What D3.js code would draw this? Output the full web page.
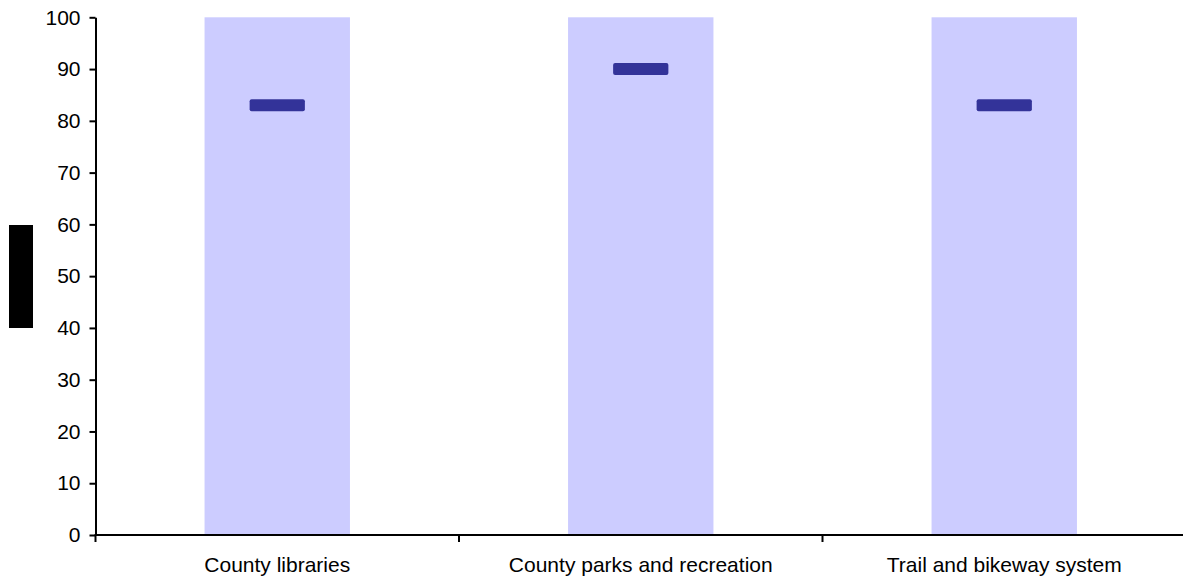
<!DOCTYPE html>
<html>
<head>
<meta charset="utf-8">
<script src="https://cdn.jsdelivr.net/npm/d3@7"></script>
<style>
  html, body { margin: 0; padding: 0; background: #fff; }
  svg { display: block; }
  text { font-family: "Liberation Sans", Arial, sans-serif; }
</style>
</head>
<body>
<svg id="chart" width="1183" height="582"></svg>
<script>
const categories = ["County libraries", "County parks and recreation", "Trail and bikeway system"];
const rangeMax = [100, 100, 100];
const markerValues = [83, 90, 83];
const yTicks = [0, 10, 20, 30, 40, 50, 60, 70, 80, 90, 100];

const svg = d3.select("#chart");
const margin = { left: 95.5, right: -3, top: 17.3, bottom: 47 };
const W = 1183, H = 582;

const x = d3.scaleBand().domain(categories).range([margin.left, W - margin.right]).padding(0);
const y = d3.scaleLinear().domain([0, 100]).range([H - margin.bottom, margin.top]);

const bw = x.bandwidth();
const barW = bw * 0.4;
const markW = bw * 0.152;
const markH = 12;

// Bars
svg.append("g").selectAll("rect")
  .data(categories)
  .join("rect")
  .attr("x", (d) => x(d) + bw / 2 - barW / 2)
  .attr("width", barW)
  .attr("y", (d, i) => y(rangeMax[i]))
  .attr("height", (d, i) => y(0) - y(rangeMax[i]))
  .attr("fill", "#CCCCFF");

// Markers
svg.append("g").selectAll("rect")
  .data(categories)
  .join("rect")
  .attr("x", (d) => x(d) + bw / 2 - markW / 2)
  .attr("width", markW)
  .attr("y", (d, i) => y(markerValues[i]) - markH / 2)
  .attr("height", markH)
  .attr("rx", 2)
  .attr("fill", "#333399");

// Y axis
const yAxis = d3.axisLeft(y).tickValues(yTicks).tickSize(6).tickPadding(9).tickSizeOuter(0);
const gy = svg.append("g").attr("transform", `translate(${margin.left},0)`).call(yAxis);
gy.select(".domain").attr("stroke", "#000").attr("stroke-width", 2);
gy.selectAll(".tick line").attr("stroke", "#000").attr("stroke-width", 2);
gy.selectAll(".tick text").attr("font-size", "21px").attr("fill", "#000")
  .attr("font-family", "'Liberation Sans', Arial, sans-serif");

// X axis
const xTickPos = [margin.left, ...categories.slice(1).map(c => x(c))];
const gx = svg.append("g").attr("transform", `translate(0,${y(0)})`);
gx.append("line").attr("x1", margin.left - 1).attr("x2", W + 5).attr("y1", 0).attr("y2", 0)
  .attr("stroke", "#000").attr("stroke-width", 2);
gx.selectAll("line.tk").data(xTickPos).join("line").attr("class", "tk")
  .attr("x1", d => d).attr("x2", d => d).attr("y1", 0).attr("y2", 7)
  .attr("stroke", "#000").attr("stroke-width", 2);
gx.selectAll("text").data(categories).join("text")
  .attr("x", d => x(d) + bw / 2)
  .attr("y", 37)
  .attr("text-anchor", "middle")
  .attr("font-size", "21px")
  .attr("fill", "#000")
  .text(d => d);

// Redacted y-axis title block
svg.append("rect").attr("x", 9).attr("y", 225).attr("width", 24).attr("height", 103).attr("fill", "#000");
</script>
</body>
</html>
